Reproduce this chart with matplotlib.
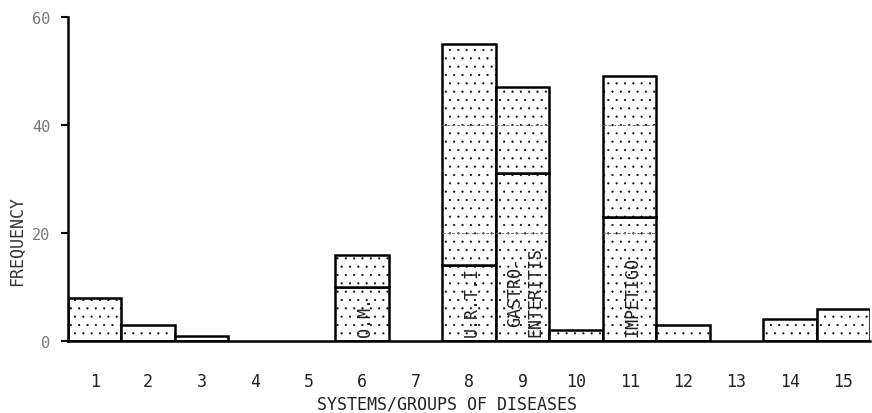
import matplotlib
matplotlib.use('Agg')
from matplotlib import pyplot as plt
import numpy as np

# data
groups = list(range(1, 16))
totals = [8, 3, 1, 0, 0, 16, 0, 55, 47, 2, 49, 3, 0, 4, 6]
# lower (labelled) part of some bars
sub_values = {6: 10, 8: 14, 9: 31, 11: 23}
sub_labels = {6: "O.M.", 8: "U.R.T.I.", 9: "GASTRO-\nENTERITIS", 11: "IMPETIGO"}
yticks = [0, 20, 40, 60]

plt.rcParams['font.family'] = ['DejaVu Sans Mono']
plt.rcParams['hatch.color'] = '#8a8a8a'
plt.rcParams['hatch.linewidth'] = 0.3

fig = plt.figure(figsize=(8.72, 4.14), dpi=100)
ax = fig.add_axes([0.078, 0.174, 0.92, 0.783])

for g, t in zip(groups, totals):
    if t == 0:
        continue
    low = sub_values.get(g, 0)
    if low > 0:
        ax.bar(g, low, width=1.0, color='white', edgecolor='black',
               linewidth=1.8, hatch='..')
    ax.bar(g, t - low, bottom=low, width=1.0, color='white',
           edgecolor='black', linewidth=1.8, hatch='..')
    # faint dashed guide lines inside the tall bars
    for lev in (20, 40):
        if t > lev and lev != low:
            ax.hlines(lev, g - 0.5, g + 0.5, colors='#777777',
                      linestyles=(0, (3, 2)), linewidth=0.7)

for g, txt in sub_labels.items():
    ax.text(g + 0.05, 1.0, txt, rotation=90, ha='center', va='bottom',
            fontsize=12, color='#222222', linespacing=1.1)

ax.set_xlim(0.5, 15.5)
ax.set_ylim(0, 60)
ax.set_xticks(groups)
ax.set_xticklabels([str(g) for g in groups], fontsize=12, color='#222222')
ax.set_yticks(yticks)
ax.set_yticklabels([str(v) for v in yticks], fontsize=11, color='#777777')
ax.tick_params(axis='x', length=0, pad=22)
ax.tick_params(axis='y', length=5, width=1.5, pad=8)

for s in ('top', 'right'):
    ax.spines[s].set_visible(False)
for s in ('left', 'bottom'):
    ax.spines[s].set_linewidth(1.8)

ax.set_ylabel("FREQUENCY", fontsize=12, color='#333333')
ax.yaxis.set_label_coords(-0.052, 0.31)
ax.set_xlabel("SYSTEMS/GROUPS OF DISEASES", fontsize=12, color='#222222')
ax.xaxis.set_label_coords(0.473, -0.165)

fig.savefig("out.png", dpi=100)
